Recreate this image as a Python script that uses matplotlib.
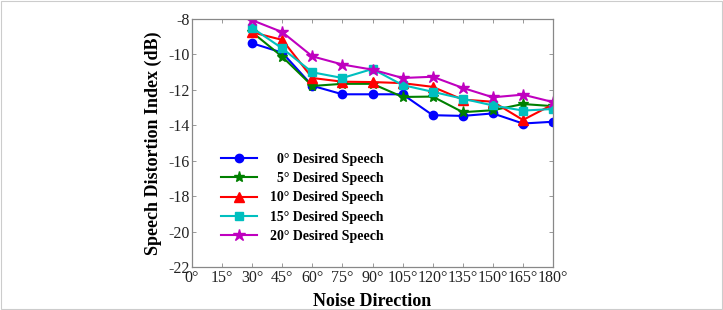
import numpy as np
import matplotlib
matplotlib.use('Agg')
import matplotlib.pyplot as plt
from matplotlib.patches import Rectangle

# noise directions (deg) and speech distortion index (dB) for each desired speech angle
directions = [30, 45, 60, 75, 90, 105, 120, 135, 150, 165, 180]
sdi_0 = [-9.37, -9.9, -11.77, -12.25, -12.25, -12.25, -13.43, -13.47, -13.33, -13.9, -13.8]
sdi_5 = [-8.75, -10.13, -11.78, -11.66, -11.66, -12.4, -12.38, -13.26, -13.15, -12.8, -12.92]
sdi_10 = [-8.75, -9.18, -11.33, -11.54, -11.56, -11.62, -11.83, -12.55, -12.67, -13.7, -12.82]
sdi_15 = [-8.5, -9.66, -11.01, -11.33, -10.82, -11.73, -12.11, -12.5, -12.88, -13.17, -13.08]
sdi_20 = [-8.07, -8.74, -10.11, -10.57, -10.86, -11.33, -11.26, -11.89, -12.42, -12.27, -12.69]

xticks = list(range(0, 181, 15))
xtick_labels = ['{}°'.format(t) for t in xticks]
yticks = list(range(-22, -7, 2))

series = [
    (sdi_0, 'b', 'o', '  0° Desired Speech', 6),
    (sdi_5, 'g', '*', '  5° Desired Speech', 8),
    (sdi_10, 'r', '^', '10° Desired Speech', 6.5),
    (sdi_15, 'c', 's', '15° Desired Speech', 5.5),
    (sdi_20, 'm', '*', '20° Desired Speech', 9),
]

plt.rcParams['font.family'] = 'Liberation Serif'
plt.rcParams['axes.unicode_minus'] = False

fig = plt.figure(figsize=(7.23, 3.10), dpi=100)
ax = fig.add_axes([0.2656, 0.1387, 0.4993, 0.8])

for vals, c, m, lab, ms in series:
    ax.plot(directions, vals, color=c, marker=m, markersize=ms, linewidth=1.5, label=lab)

ax.set_xlim(0, 180)
ax.set_ylim(-22, -8)
ax.set_xticks(xticks)
ax.set_xticklabels(xtick_labels)
ax.set_yticks(yticks)
ax.tick_params(direction='in', top=True, right=True, labelsize=11.5,
               length=3, width=0.6, pad=2, colors='#888888', labelcolor='#222222')
for s in ax.spines.values():
    s.set_color('#888888')
    s.set_linewidth(0.9)

ax.set_xlabel('Noise Direction', fontsize=13, fontweight='bold', labelpad=5)
ax.set_ylabel('Speech Distortion Index (dB)', fontsize=13, fontweight='bold', labelpad=4)

leg = ax.legend(loc='upper left', bbox_to_anchor=(0.08, 0.46), frameon=False,
                borderpad=0, borderaxespad=0,
                handlelength=2.6, handletextpad=0.95, labelspacing=0.45,
                prop={'weight': 'bold', 'size': 10})

# thin frame round the whole picture
fig.patches.append(Rectangle((0.001, 0.002), 0.997, 0.995, transform=fig.transFigure,
                             fill=False, edgecolor='#cccccc', linewidth=0.8))

plt.savefig('out.png', dpi=100)
